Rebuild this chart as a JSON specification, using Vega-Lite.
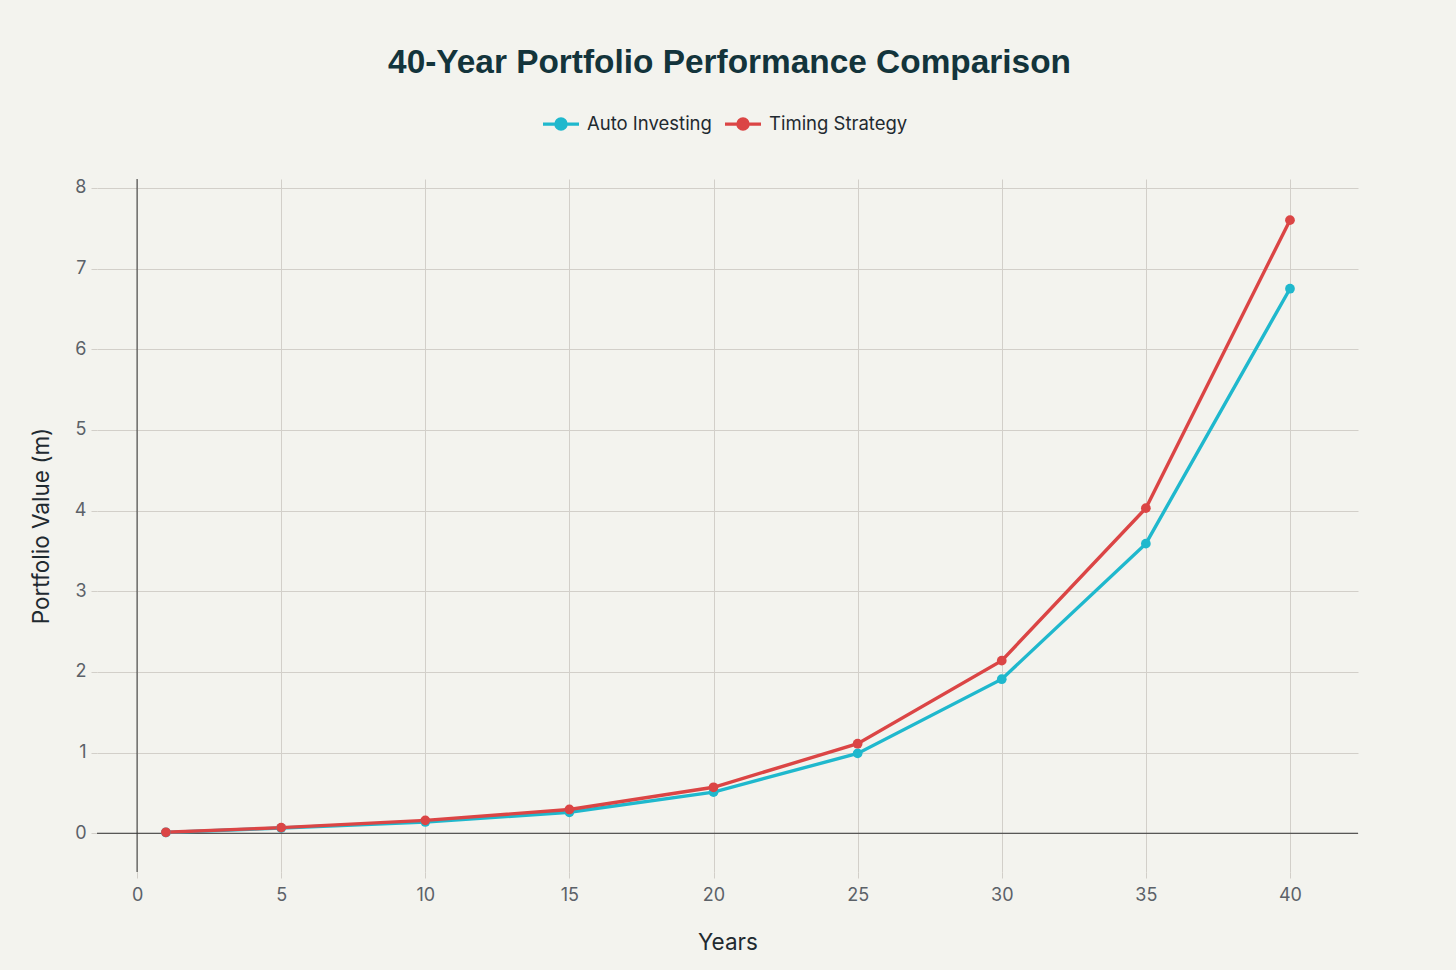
{
  "$schema": "https://vega.github.io/schema/vega-lite/v6.json",
  "width": 1261,
  "height": 693,
  "autosize": {"type": "none"},
  "padding": {"left": 97, "top": 179, "right": 98, "bottom": 98},
  "background": "#F3F3EE",
  "title": {
    "text": "40-Year Portfolio Performance Comparison",
    "anchor": "middle",
    "font": "Liberation Sans",
    "fontSize": 33.4,
    "fontWeight": "bold",
    "color": "#13343B",
    "offset": 24,
    "dx": 2
  },
  "config": {
    "view": {"stroke": null},
    "axis": {
      "labelFont": "Inter",
      "titleFont": "Inter",
      "labelFontSize": 18,
      "labelColor": "#5B6168",
      "titleFontSize": 22.5,
      "titleFontWeight": "normal",
      "titleColor": "#1F2A30",
      "gridColor": "#D2CFC9",
      "gridWidth": 1,
      "tickColor": "#D2CFC9",
      "tickSize": 6,
      "domain": false
    },
    "legend": {
      "labelFont": "Inter",
      "labelFontSize": 18.5,
      "labelColor": "#1F2A30"
    }
  },
  "datasets": {
    "series": [
      {"year": 1, "value": 0.01, "strategy": "Auto Investing"},
      {"year": 5, "value": 0.065, "strategy": "Auto Investing"},
      {"year": 10, "value": 0.14, "strategy": "Auto Investing"},
      {"year": 15, "value": 0.26, "strategy": "Auto Investing"},
      {"year": 20, "value": 0.51, "strategy": "Auto Investing"},
      {"year": 25, "value": 0.99, "strategy": "Auto Investing"},
      {"year": 30, "value": 1.91, "strategy": "Auto Investing"},
      {"year": 35, "value": 3.59, "strategy": "Auto Investing"},
      {"year": 40, "value": 6.75, "strategy": "Auto Investing"},
      {"year": 1, "value": 0.012, "strategy": "Timing Strategy"},
      {"year": 5, "value": 0.07, "strategy": "Timing Strategy"},
      {"year": 10, "value": 0.16, "strategy": "Timing Strategy"},
      {"year": 15, "value": 0.295, "strategy": "Timing Strategy"},
      {"year": 20, "value": 0.57, "strategy": "Timing Strategy"},
      {"year": 25, "value": 1.11, "strategy": "Timing Strategy"},
      {"year": 30, "value": 2.14, "strategy": "Timing Strategy"},
      {"year": 35, "value": 4.03, "strategy": "Timing Strategy"},
      {"year": 40, "value": 7.6, "strategy": "Timing Strategy"}
    ]
  },
  "layer": [
    {
      "data": {"values": [{"zero": 0}]},
      "mark": {"type": "rule", "color": "#333333", "strokeWidth": 1},
      "encoding": {"x": {"field": "zero", "type": "quantitative"}}
    },
    {
      "data": {"values": [{"zero": 0}]},
      "mark": {"type": "rule", "color": "#333333", "strokeWidth": 1},
      "encoding": {"y": {"field": "zero", "type": "quantitative"}}
    },
    {
      "data": {"name": "series"},
      "mark": {"type": "line", "strokeWidth": 3.4},
      "encoding": {
        "x": {"field": "year", "type": "quantitative"},
        "y": {"field": "value", "type": "quantitative"},
        "color": {"field": "strategy", "type": "nominal"}
      }
    },
    {
      "data": {"name": "series"},
      "mark": {"type": "point", "filled": true, "size": 95, "opacity": 1},
      "encoding": {
        "x": {"field": "year", "type": "quantitative"},
        "y": {"field": "value", "type": "quantitative"},
        "color": {"field": "strategy", "type": "nominal"}
      }
    }
  ],
  "resolve": {"scale": {"x": "shared", "y": "shared", "color": "shared"}},
  "encoding": {
    "x": {
      "type": "quantitative",
      "scale": {"domain": [-1.39, 42.36], "nice": false, "zero": false},
      "axis": {"values": [0, 5, 10, 15, 20, 25, 30, 35, 40], "title": "Years", "labelPadding": 8, "titlePadding": 27}
    },
    "y": {
      "type": "quantitative",
      "scale": {"domain": [-0.48, 8.11], "nice": false, "zero": false},
      "axis": {"values": [0, 1, 2, 3, 4, 5, 6, 7, 8], "title": "Portfolio Value (m)", "labelPadding": 5, "titlePadding": 21}
    },
    "color": {
      "type": "nominal",
      "scale": {"domain": ["Auto Investing", "Timing Strategy"], "range": ["#1FB8CD", "#DB4545"]},
      "legend": {
        "title": null,
        "orient": "none",
        "direction": "horizontal",
        "legendX": 444,
        "legendY": -75,
        "symbolType": "M -1 0 L 1 0 M -0.28 0 A 0.28 0.28 0 1 1 0.28 0 A 0.28 0.28 0 1 1 -0.28 0 Z",
        "symbolSize": 1296,
        "symbolStrokeWidth": 3.4,
        "labelOffset": 6,
        "columnPadding": 6
      }
    }
  }
}
